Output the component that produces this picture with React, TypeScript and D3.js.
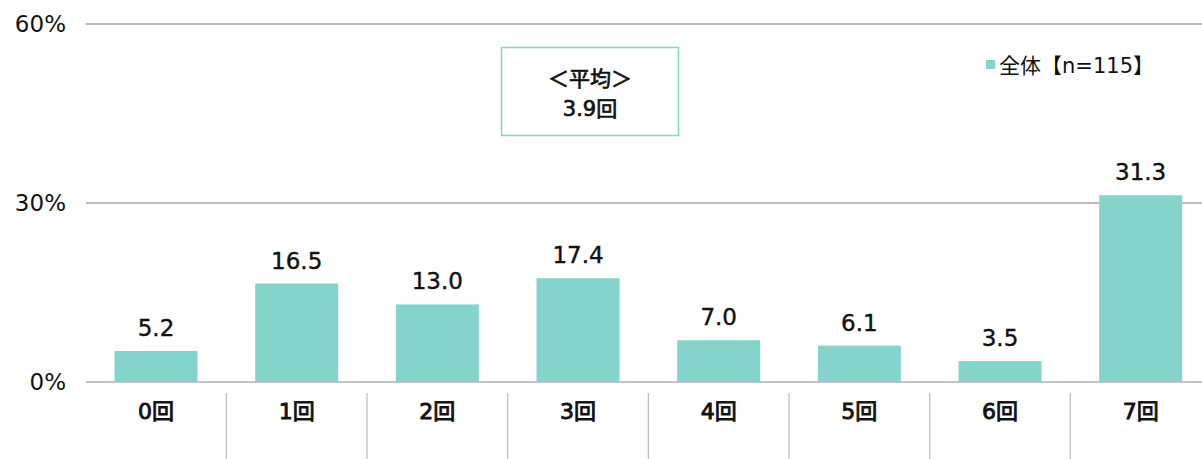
import React from "react";
import * as d3 from "d3";

const categories = ["0回", "1回", "2回", "3回", "4回", "5回", "6回", "7回"];
const values = [5.2, 16.5, 13.0, 17.4, 7.0, 6.1, 3.5, 31.3];
const yTicks = [0, 30, 60];
const legendLabel = "全体【n=115】";
const avgLines = ["＜平均＞", "3.9回"];

export default function App() {
  const W = 1202, H = 459;
  const font = "'DejaVu Sans', 'Noto Sans CJK JP', sans-serif";
  const x = d3.scaleBand().domain(categories).range([85.7, 1211]).paddingInner(0.41).paddingOuter(0.205);
  const y = d3.scaleLinear().domain([0, 60]).range([382, 24]);
  const step = x.step();
  const color = "#84d4cc";
  const ink = "#111";
  return (
    <svg width={W} height={H} style={{ position: "absolute", left: 0, top: 0 }} fontFamily={font}>
      {yTicks.map((t) => (
        <g key={t}>
          <line x1={86} x2={W} y1={y(t)} y2={y(t)} stroke={t === 0 ? "#b0b0b0" : "#a6a6a6"} strokeWidth={1.3} />
          <text x={66} y={y(t)} dy="0.36em" textAnchor="end" fontSize={23} fill={ink}>{t}%</text>
        </g>
      ))}
      {categories.slice(1).map((c) => (
        <line key={c} x1={x(c)! - (step - x.bandwidth()) / 2} x2={x(c)! - (step - x.bandwidth()) / 2} y1={393} y2={H} stroke="#c0c0c0" strokeWidth={1.3} />
      ))}
      {categories.map((c, i) => (
        <g key={c}>
          <rect x={x(c)} y={y(values[i])} width={x.bandwidth()} height={y(0) - y(values[i])} fill={color} />
          <text x={x(c)! + x.bandwidth() / 2} y={y(values[i]) - 15} textAnchor="middle" fontSize={23} fill={ink} stroke={ink} strokeWidth={0.4}>{values[i].toFixed(1)}</text>
          <text x={x(c)! + x.bandwidth() / 2} y={411} dy="0.36em" textAnchor="middle" fontSize={22} fill={ink} stroke={ink} strokeWidth={0.9}>{c}</text>
        </g>
      ))}
      <rect x={501.5} y={47.5} width={177} height={88} fill="#fff" stroke={color} strokeWidth={1.5} />
      {avgLines.map((t, i) => (
        <text key={i} x={590} y={78 + i * 30} dy="0.36em" textAnchor="middle" fontSize={21} fill={ink} stroke={ink} strokeWidth={0.7}>{t}</text>
      ))}
      <rect x={986} y={60} width={9} height={9} fill={color} />
      <text x={999} y={65} dy="0.36em" fontSize={21} fill={ink}>{legendLabel}</text>
    </svg>
  );
}
